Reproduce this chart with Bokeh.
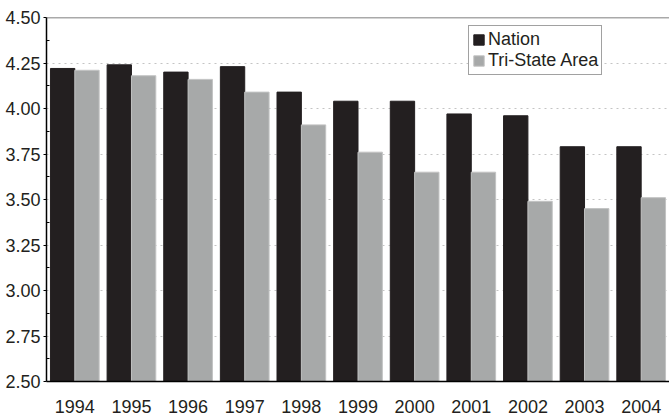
from bokeh.plotting import figure
from bokeh.models import (ColumnDataSource, FactorRange, Range1d, FixedTicker,
                          NumeralTickFormatter, Span, Legend, LegendItem)
from bokeh.transform import dodge
from bokeh.embed import file_html
from bokeh.resources import INLINE

years = ["1994", "1995", "1996", "1997", "1998", "1999", "2000", "2001", "2002", "2003", "2004"]
nation = [4.22, 4.24, 4.20, 4.23, 4.09, 4.04, 4.04, 3.97, 3.96, 3.79, 3.79]
tri_state = [4.21, 4.18, 4.16, 4.09, 3.91, 3.76, 3.65, 3.65, 3.49, 3.45, 3.51]
y_ticks = [2.50, 2.75, 3.00, 3.25, 3.50, 3.75, 4.00, 4.25, 4.50]
y_minor = [2.625, 2.875, 3.125, 3.375, 3.625, 3.875, 4.125, 4.375]

FONT = "Liberation Sans"
TXT = "#231f20"

src = ColumnDataSource(data=dict(years=years, nation=nation, tri=tri_state))

p = figure(x_range=FactorRange(factors=years, range_padding=0),
           y_range=Range1d(2.5, 4.5),
           frame_width=623, frame_height=364,
           min_border_left=46, min_border_top=17, min_border_right=0, min_border_bottom=20,
           output_backend="svg", toolbar_location=None, background_fill_color="white")

r1 = p.vbar(x=dodge("years", -0.215, range=p.x_range), top="nation", bottom=2.5, width=0.43,
            source=src, fill_color="#231f20", line_color="#231f20")
r2 = p.vbar(x=dodge("years", 0.215, range=p.x_range), top="tri", bottom=2.5, width=0.43,
            source=src, fill_color="#a7a9a9", line_color="#c2c3c3", line_width=1)

p.outline_line_color = None
p.xgrid.grid_line_color = None
p.ygrid.grid_line_color = "#c4c4c4"
p.ygrid.grid_line_dash = "2 4"
p.ygrid.grid_line_width = 1

ya = p.yaxis[0]
ya.ticker = FixedTicker(ticks=y_ticks, minor_ticks=y_minor)
ya.formatter = NumeralTickFormatter(format="0.00")
ya.axis_line_color = "#000000"
ya.axis_line_width = 1.5
ya.major_tick_out = 3
ya.major_tick_in = 0
ya.minor_tick_in = 3
ya.minor_tick_out = 0
ya.major_tick_line_color = "#000000"
ya.minor_tick_line_color = "#000000"
ya.major_label_standoff = 3
ya.major_label_text_font = FONT
ya.major_label_text_font_size = "18px"
ya.major_label_text_color = TXT

xa = p.xaxis[0]
xa.axis_line_color = "#000000"
xa.axis_line_width = 1.5
xa.major_tick_line_color = None
xa.minor_tick_line_color = None
xa.major_label_standoff = 12
xa.major_label_text_font = FONT
xa.major_label_text_font_size = "18px"
xa.major_label_text_color = TXT

top_line = Span(location=4.5, dimension="width", line_color="#555555", line_width=1.5)
p.add_layout(top_line)

legend = Legend(items=[LegendItem(label="Nation", renderers=[r1]),
                       LegendItem(label="Tri-State Area", renderers=[r2])],
                location=(422, 306))
legend.border_line_color = "#444444"
legend.border_line_width = 1.5
legend.background_fill_color = "white"
legend.background_fill_alpha = 1
legend.padding = 3
legend.margin = 0
legend.spacing = 0
legend.label_height = 20
legend.glyph_width = 13
legend.glyph_height = 13
legend.label_standoff = 3
legend.label_text_font = FONT
legend.label_text_font_size = "18px"
legend.label_text_color = TXT
p.add_layout(legend, "center")

open("out.html", "w").write(file_html(p, INLINE))
